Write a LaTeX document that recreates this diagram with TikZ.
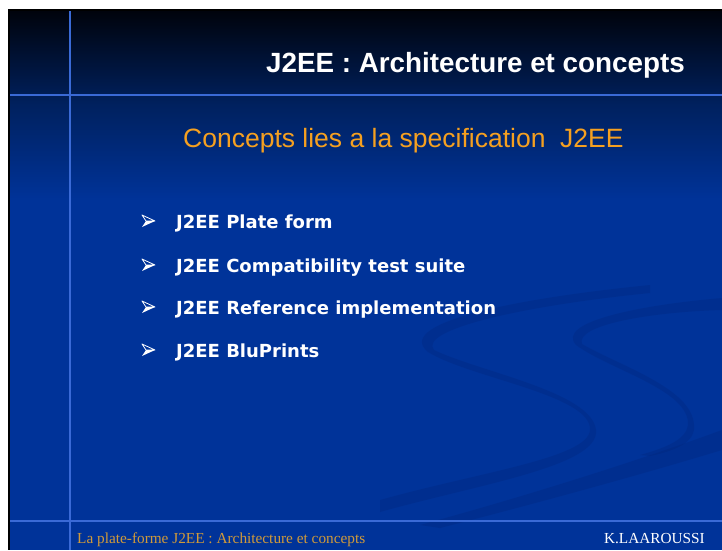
\documentclass[tikz,border=0pt]{standalone}
\usepackage{fontspec}
\setmainfont{Liberation Serif}
\newfontfamily\titlefont{Liberation Sans}
\newfontfamily\dvfont{DejaVu Sans}
\definecolor{slidebg}{HTML}{003399}
\definecolor{slidetop}{HTML}{00030C}
\definecolor{slidemid}{HTML}{00215F}
\definecolor{rulecol}{HTML}{3A6AD6}
\definecolor{swoosh}{HTML}{00257A}
\definecolor{subcol}{HTML}{F5A020}
\definecolor{footcol}{HTML}{D09A3A}
\tikzset{
  rule/.style={draw=rulecol,line width=2pt},
  swooshfill/.style={fill=swoosh,fill opacity=0.3,draw=none},
  bullettext/.style={anchor=base west,inner sep=0pt,text=white,font=\dvfont\bfseries\fontsize{18}{20}\selectfont},
  foottext/.style={inner sep=0pt,font=\fontsize{15.3}{17}\selectfont},
  pics/bulletarrow/.style={code={
    \fill[white] (4,0) -- (13,0) -- (0,6) -- cycle;
    \draw[white,line width=0.8pt,line join=round] (0,-6) -- (13,0) -- (4,0) -- cycle;
  }}
}
\begin{document}
\begin{tikzpicture}[x=1pt,y=-1pt]
\useasboundingbox (0,0) rectangle (722,550);
\fill[white] (0,0) rectangle (722,550);
\fill[black] (8,9) rectangle (722,550);
\fill[slidebg] (10,11) rectangle (722,550);
\shade[top color=slidetop,bottom color=slidebg,middle color=slidemid] (10,11) rectangle (722,200);
% swooshes
\path[swooshfill] (650,285) .. controls (500,300) and (395,325) .. (428,352)
  .. controls (470,378) and (592,395) .. (590,430)
  .. controls (588,458) and (480,472) .. (380,500)
  -- (380,512)
  .. controls (480,484) and (600,466) .. (596,430)
  .. controls (592,392) and (480,372) .. (434,350)
  .. controls (418,330) and (520,306) .. (650,293) -- cycle;
\path[swooshfill] (722,298) .. controls (640,305) and (555,322) .. (576,345)
  .. controls (610,370) and (690,390) .. (688,425)
  .. controls (686,440) and (665,448) .. (640,455)
  -- (650,456)
  .. controls (680,450) and (696,440) .. (694,425)
  .. controls (692,388) and (620,366) .. (582,344)
  .. controls (575,325) and (650,312) .. (722,310) -- cycle;
\path[swooshfill] (420,525) .. controls (530,495) and (640,460) .. (722,430)
  -- (722,450) .. controls (640,475) and (530,505) .. (440,528) -- cycle;
% rules
\draw[rule] (69.5,11) -- (69.5,550);
\draw[rule] (10,95) -- (722,95);
\draw[rule] (10,521) -- (722,521);
% title
\node[anchor=base east,inner sep=0pt,text=white,font=\titlefont\bfseries\fontsize{27.8}{30}\selectfont] (title) at (685,72) {J2EE : Architecture et concepts};
\node[anchor=base west,inner sep=0pt,text=subcol,font=\titlefont\fontsize{26.5}{28}\selectfont] (subtitle) at (183,147) {Concepts lies a la specification\ \ J2EE};
% bullets
\pic at (142,221) {bulletarrow};
\node[bullettext] (t1) at (176,228) {J2EE Plate form};
\pic at (142,265) {bulletarrow};
\node[bullettext] (t2) at (176,272) {J2EE Compatibility test suite};
\pic at (142,307) {bulletarrow};
\node[bullettext] (t3) at (176,314) {J2EE Reference implementation};
\pic at (142,350) {bulletarrow};
\node[bullettext] (t4) at (176,357) {J2EE BluPrints};
% footer
\node[foottext,anchor=base west,text=footcol] (foot) at (77,543) {La plate-forme J2EE : Architecture et concepts};
\node[foottext,anchor=base east,text=white] (author) at (705,543) {K.LAAROUSSI};
\end{tikzpicture}
\end{document}
